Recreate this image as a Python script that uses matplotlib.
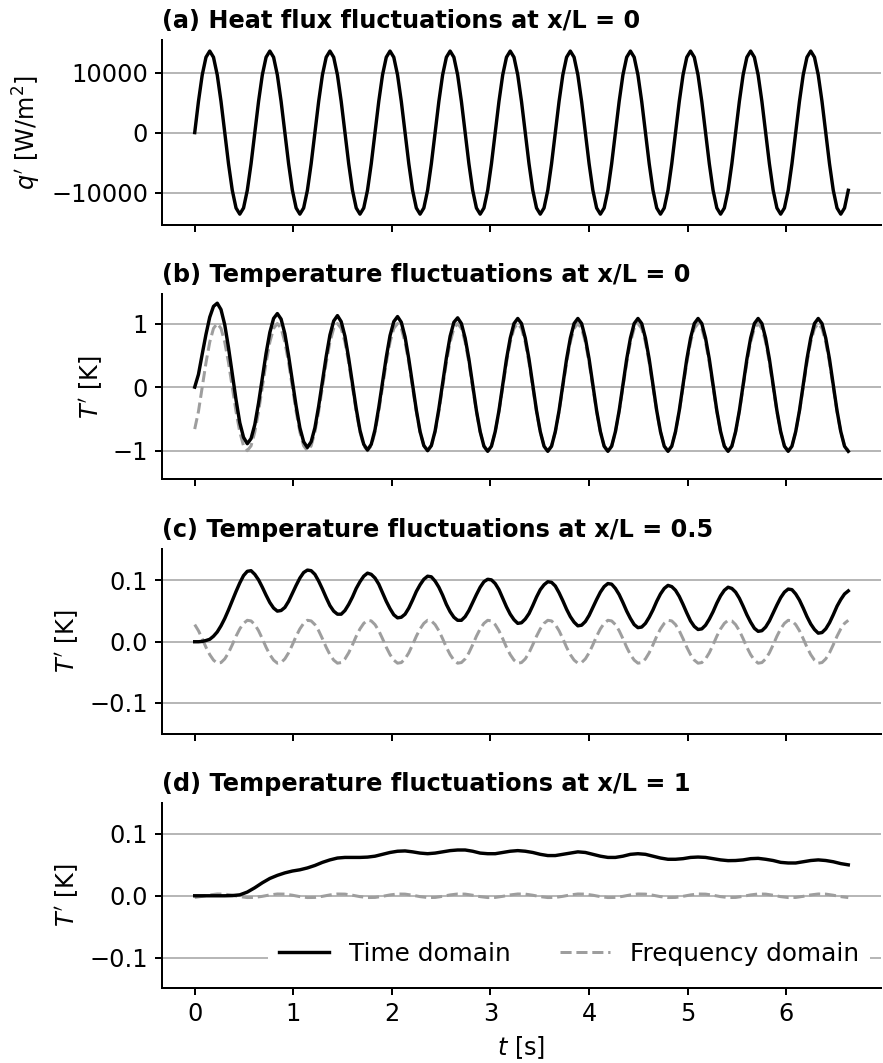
import numpy as np
import matplotlib
matplotlib.use("Agg")
import matplotlib.pyplot as plt

# sample times (fine grid for the fast signals, coarse grid for panel d)
t_fine = np.linspace(0, 6.63, 175)
t_coarse = np.linspace(0, 6.63, 88)

# (a) heat flux at x/L = 0  [W/m2]
q_flux = [
    0, 5200, 9620, 12570, 13600, 12570, 9620, 5200, 0, -5200, -9620, -12570, -13600, -12570, -9620, -5200,
    0, 5200, 9620, 12570, 13600, 12570, 9620, 5200, 0, -5200, -9620, -12570, -13600, -12570, -9620, -5200,
    0, 5200, 9620, 12570, 13600, 12570, 9620, 5200, 0, -5200, -9620, -12570, -13600, -12570, -9620, -5200,
    0, 5200, 9620, 12570, 13600, 12570, 9620, 5200, 0, -5200, -9620, -12570, -13600, -12570, -9620, -5200,
    0, 5200, 9620, 12570, 13600, 12570, 9620, 5200, 0, -5200, -9620, -12570, -13600, -12570, -9620, -5200,
    0, 5200, 9620, 12570, 13600, 12570, 9620, 5200, 0, -5200, -9620, -12570, -13600, -12570, -9620, -5200,
    0, 5200, 9620, 12570, 13600, 12570, 9620, 5200, 0, -5200, -9620, -12570, -13600, -12570, -9620, -5200,
    0, 5200, 9620, 12570, 13600, 12570, 9620, 5200, 0, -5200, -9620, -12570, -13600, -12570, -9620, -5200,
    0, 5200, 9620, 12570, 13600, 12570, 9620, 5200, 0, -5200, -9620, -12570, -13600, -12570, -9620, -5200,
    0, 5200, 9620, 12570, 13600, 12570, 9620, 5200, 0, -5200, -9620, -12570, -13600, -12570, -9620, -5200,
    0, 5200, 9620, 12570, 13600, 12570, 9620, 5200, 0, -5200, -9620, -12570, -13600, -12570, -9620,
]

# (b) temperature at x/L = 0  [K]
T0_time = [
    0, 0.20, 0.52, 0.83, 1.10, 1.27, 1.32, 1.22, 0.98, 0.62, 0.21, -0.20, -0.56, -0.79, -0.89, -0.81,
    -0.59, -0.25, 0.14, 0.53, 0.86, 1.08, 1.157, 1.07, 0.84, 0.49, 0.09, -0.30, -0.64, -0.86, -0.95, -0.86,
    -0.64, -0.30, 0.09, 0.48, 0.82, 1.04, 1.125, 1.03, 0.80, 0.45, 0.05, -0.34, -0.68, -0.90, -0.99, -0.90,
    -0.67, -0.32, 0.08, 0.47, 0.81, 1.03, 1.11, 1.02, 0.79, 0.44, 0.04, -0.36, -0.70, -0.92, -1.00, -0.92,
    -0.69, -0.34, 0.06, 0.46, 0.80, 1.02, 1.09, 1.00, 0.77, 0.44, 0.04, -0.37, -0.70, -0.93, -1.01, -0.93,
    -0.70, -0.37, 0.04, 0.44, 0.77, 1.00, 1.08, 1.00, 0.77, 0.44, 0.04, -0.37, -0.70, -0.93, -1.01, -0.93,
    -0.70, -0.37, 0.04, 0.44, 0.77, 1.00, 1.08, 1.00, 0.77, 0.44, 0.04, -0.37, -0.70, -0.93, -1.01, -0.93,
    -0.70, -0.37, 0.04, 0.44, 0.77, 1.00, 1.08, 1.00, 0.77, 0.44, 0.04, -0.37, -0.70, -0.93, -1.01, -0.93,
    -0.70, -0.37, 0.04, 0.44, 0.77, 1.00, 1.08, 1.00, 0.77, 0.44, 0.04, -0.37, -0.70, -0.93, -1.01, -0.93,
    -0.70, -0.37, 0.04, 0.44, 0.77, 1.00, 1.08, 1.00, 0.77, 0.44, 0.04, -0.37, -0.70, -0.93, -1.01, -0.93,
    -0.70, -0.37, 0.04, 0.44, 0.77, 1.00, 1.08, 1.00, 0.77, 0.44, 0.04, -0.37, -0.70, -0.93, -1.01,
]
T0_freq = [
    -0.66, -0.383, 0, 0.383, 0.707, 0.924, 1, 0.924, 0.707, 0.383, 0, -0.383, -0.707, -0.924, -1, -0.924,
    -0.707, -0.383, 0, 0.383, 0.707, 0.924, 1, 0.924, 0.707, 0.383, 0, -0.383, -0.707, -0.924, -1, -0.924,
    -0.707, -0.383, 0, 0.383, 0.707, 0.924, 1, 0.924, 0.707, 0.383, 0, -0.383, -0.707, -0.924, -1, -0.924,
    -0.707, -0.383, 0, 0.383, 0.707, 0.924, 1, 0.924, 0.707, 0.383, 0, -0.383, -0.707, -0.924, -1, -0.924,
    -0.707, -0.383, 0, 0.383, 0.707, 0.924, 1, 0.924, 0.707, 0.383, 0, -0.383, -0.707, -0.924, -1, -0.924,
    -0.707, -0.383, 0, 0.383, 0.707, 0.924, 1, 0.924, 0.707, 0.383, 0, -0.383, -0.707, -0.924, -1, -0.924,
    -0.707, -0.383, 0, 0.383, 0.707, 0.924, 1, 0.924, 0.707, 0.383, 0, -0.383, -0.707, -0.924, -1, -0.924,
    -0.707, -0.383, 0, 0.383, 0.707, 0.924, 1, 0.924, 0.707, 0.383, 0, -0.383, -0.707, -0.924, -1, -0.924,
    -0.707, -0.383, 0, 0.383, 0.707, 0.924, 1, 0.924, 0.707, 0.383, 0, -0.383, -0.707, -0.924, -1, -0.924,
    -0.707, -0.383, 0, 0.383, 0.707, 0.924, 1, 0.924, 0.707, 0.383, 0, -0.383, -0.707, -0.924, -1, -0.924,
    -0.707, -0.383, 0, 0.383, 0.707, 0.924, 1, 0.924, 0.707, 0.383, 0, -0.383, -0.707, -0.924, -1,
]

# (c) temperature at x/L = 0.5  [K]
Tc_time = [
    0, 0, 0.0005, 0.002, 0.004, 0.009, 0.016, 0.026, 0.038, 0.052, 0.067, 0.082, 0.096, 0.108, 0.115, 0.116,
    0.110, 0.101, 0.089, 0.076, 0.064, 0.055, 0.050, 0.051, 0.056, 0.066, 0.079, 0.092, 0.104, 0.113, 0.117, 0.116,
    0.110, 0.099, 0.086, 0.072, 0.059, 0.050, 0.045, 0.045, 0.051, 0.061, 0.073, 0.087, 0.098, 0.107, 0.112, 0.110,
    0.104, 0.094, 0.080, 0.066, 0.054, 0.044, 0.039, 0.040, 0.045, 0.055, 0.068, 0.082, 0.093, 0.102, 0.107, 0.106,
    0.099, 0.089, 0.076, 0.061, 0.049, 0.040, 0.035, 0.035, 0.041, 0.051, 0.064, 0.077, 0.089, 0.098, 0.102, 0.101,
    0.095, 0.085, 0.071, 0.057, 0.045, 0.036, 0.030, 0.031, 0.037, 0.046, 0.059, 0.073, 0.085, 0.093, 0.098, 0.097,
    0.091, 0.080, 0.067, 0.053, 0.041, 0.032, 0.026, 0.027, 0.033, 0.043, 0.056, 0.069, 0.081, 0.090, 0.095, 0.094,
    0.087, 0.077, 0.064, 0.050, 0.038, 0.028, 0.023, 0.024, 0.030, 0.040, 0.052, 0.066, 0.078, 0.087, 0.092, 0.090,
    0.084, 0.074, 0.061, 0.047, 0.034, 0.025, 0.020, 0.021, 0.027, 0.037, 0.049, 0.063, 0.075, 0.084, 0.089, 0.087,
    0.081, 0.071, 0.058, 0.044, 0.032, 0.022, 0.017, 0.018, 0.024, 0.034, 0.047, 0.060, 0.072, 0.081, 0.086, 0.085,
    0.078, 0.068, 0.055, 0.041, 0.029, 0.020, 0.014, 0.015, 0.021, 0.031, 0.044, 0.058, 0.069, 0.078, 0.083,
]
Tc_freq = [
    0.028, 0.018, 0.005, -0.009, -0.021, -0.030, -0.035, -0.034, -0.028, -0.018, -0.005, 0.009, 0.021, 0.030, 0.035, 0.034,
    0.028, 0.018, 0.005, -0.009, -0.021, -0.030, -0.035, -0.034, -0.028, -0.018, -0.005, 0.009, 0.021, 0.030, 0.035, 0.034,
    0.028, 0.018, 0.005, -0.009, -0.021, -0.030, -0.035, -0.034, -0.028, -0.018, -0.005, 0.009, 0.021, 0.030, 0.035, 0.034,
    0.028, 0.018, 0.005, -0.009, -0.021, -0.030, -0.035, -0.034, -0.028, -0.018, -0.005, 0.009, 0.021, 0.030, 0.035, 0.034,
    0.028, 0.018, 0.005, -0.009, -0.021, -0.030, -0.035, -0.034, -0.028, -0.018, -0.005, 0.009, 0.021, 0.030, 0.035, 0.034,
    0.028, 0.018, 0.005, -0.009, -0.021, -0.030, -0.035, -0.034, -0.028, -0.018, -0.005, 0.009, 0.021, 0.030, 0.035, 0.034,
    0.028, 0.018, 0.005, -0.009, -0.021, -0.030, -0.035, -0.034, -0.028, -0.018, -0.005, 0.009, 0.021, 0.030, 0.035, 0.034,
    0.028, 0.018, 0.005, -0.009, -0.021, -0.030, -0.035, -0.034, -0.028, -0.018, -0.005, 0.009, 0.021, 0.030, 0.035, 0.034,
    0.028, 0.018, 0.005, -0.009, -0.021, -0.030, -0.035, -0.034, -0.028, -0.018, -0.005, 0.009, 0.021, 0.030, 0.035, 0.034,
    0.028, 0.018, 0.005, -0.009, -0.021, -0.030, -0.035, -0.034, -0.028, -0.018, -0.005, 0.009, 0.021, 0.030, 0.035, 0.034,
    0.028, 0.018, 0.005, -0.009, -0.021, -0.030, -0.035, -0.034, -0.028, -0.018, -0.005, 0.009, 0.021, 0.030, 0.035,
]

# (d) temperature at x/L = 1  [K]
Td_time = [
    0, 0, 0, 0, 0, 0.0003, 0.0015, 0.006,
    0.013, 0.021, 0.028, 0.033, 0.037, 0.040, 0.042, 0.045,
    0.049, 0.054, 0.058, 0.061, 0.062, 0.062, 0.062, 0.0625,
    0.064, 0.067, 0.070, 0.072, 0.0725, 0.071, 0.069, 0.068,
    0.069, 0.071, 0.073, 0.074, 0.074, 0.072, 0.069, 0.068,
    0.068, 0.070, 0.072, 0.073, 0.072, 0.070, 0.067, 0.065,
    0.065, 0.067, 0.069, 0.071, 0.070, 0.067, 0.064, 0.062,
    0.062, 0.064, 0.067, 0.068, 0.067, 0.064, 0.061, 0.059,
    0.059, 0.060, 0.062, 0.0626, 0.062, 0.060, 0.058, 0.0568,
    0.057, 0.058, 0.060, 0.0605, 0.059, 0.057, 0.054, 0.053,
    0.053, 0.055, 0.057, 0.058, 0.057, 0.055, 0.052, 0.050,
]
Td_freq = [
    -0.0027, -0.0009, 0.0014, 0.0029, 0.0027, 0.0009, -0.0014, -0.0029,
    -0.0027, -0.0009, 0.0014, 0.0029, 0.0027, 0.0009, -0.0014, -0.0029,
    -0.0027, -0.0009, 0.0014, 0.0029, 0.0027, 0.0009, -0.0014, -0.0029,
    -0.0027, -0.0009, 0.0014, 0.0029, 0.0027, 0.0009, -0.0014, -0.0029,
    -0.0027, -0.0009, 0.0014, 0.0029, 0.0027, 0.0009, -0.0014, -0.0029,
    -0.0027, -0.0009, 0.0014, 0.0029, 0.0027, 0.0009, -0.0014, -0.0029,
    -0.0027, -0.0009, 0.0014, 0.0029, 0.0027, 0.0009, -0.0014, -0.0029,
    -0.0027, -0.0009, 0.0014, 0.0029, 0.0027, 0.0009, -0.0014, -0.0029,
    -0.0027, -0.0009, 0.0014, 0.0029, 0.0027, 0.0009, -0.0014, -0.0029,
    -0.0027, -0.0009, 0.0014, 0.0029, 0.0027, 0.0009, -0.0014, -0.0029,
    -0.0027, -0.0009, 0.0014, 0.0029, 0.0027, 0.0009, -0.0014, -0.0029,
]

titles = ["(a) Heat flux fluctuations at x/L = 0",
          "(b) Temperature fluctuations at x/L = 0",
          "(c) Temperature fluctuations at x/L = 0.5",
          "(d) Temperature fluctuations at x/L = 1"]
ylabels = ["$q'$ [W/m$^2$]", "$T'$ [K]", "$T'$ [K]", "$T'$ [K]"]
yticks = [[-10000, 0, 10000], [-1, 0, 1], [-0.1, 0.0, 0.1], [-0.1, 0.0, 0.1]]
ylims = [(-15400, 15450), (-1.45, 1.46), (-0.15, 0.152), (-0.149, 0.150)]

plt.rcParams["font.size"] = 12
plt.rcParams["axes.linewidth"] = 1.0

fig, axes = plt.subplots(4, 1, figsize=(883 / 144, 1063 / 144), dpi=144, sharex=True)
fig.subplots_adjust(left=0.1835, right=0.9977, top=0.9624, bottom=0.0706, hspace=0.375)

black = dict(color="black", lw=1.7, zorder=3)
gray = dict(color="#9e9e9e", lw=1.5, ls="--", zorder=2)

axes[0].plot(t_fine, q_flux, **black)
axes[1].plot(t_fine, T0_time, **black)
axes[1].plot(t_fine, T0_freq, **gray)
axes[2].plot(t_fine, Tc_time, **black)
axes[2].plot(t_fine, Tc_freq, **gray)
axes[3].plot(t_coarse, Td_time, label="Time domain", **black)
axes[3].plot(t_coarse, Td_freq, label="Frequency domain", **gray)

for i, ax in enumerate(axes):
    ax.set_title(titles[i], loc="left", fontweight="bold", fontsize=12)
    ax.set_ylabel(ylabels[i])
    ax.set_yticks(yticks[i])
    ax.set_ylim(*ylims[i])
    ax.spines["top"].set_visible(False)
    ax.spines["right"].set_visible(False)
    ax.grid(axis="y", color="#b0b0b0", lw=0.9)
    ax.set_axisbelow(True)
    ax.tick_params(width=1.0, length=3.5)

axes[-1].set_xticks(range(7))
axes[-1].set_xlabel("$t$ [s]")
leg = axes[-1].legend(loc="lower right", ncol=2, frameon=True, framealpha=1,
                      facecolor="white", edgecolor="white", fancybox=False,
                      fontsize=12.4)

fig.savefig("out.png", dpi=144)
